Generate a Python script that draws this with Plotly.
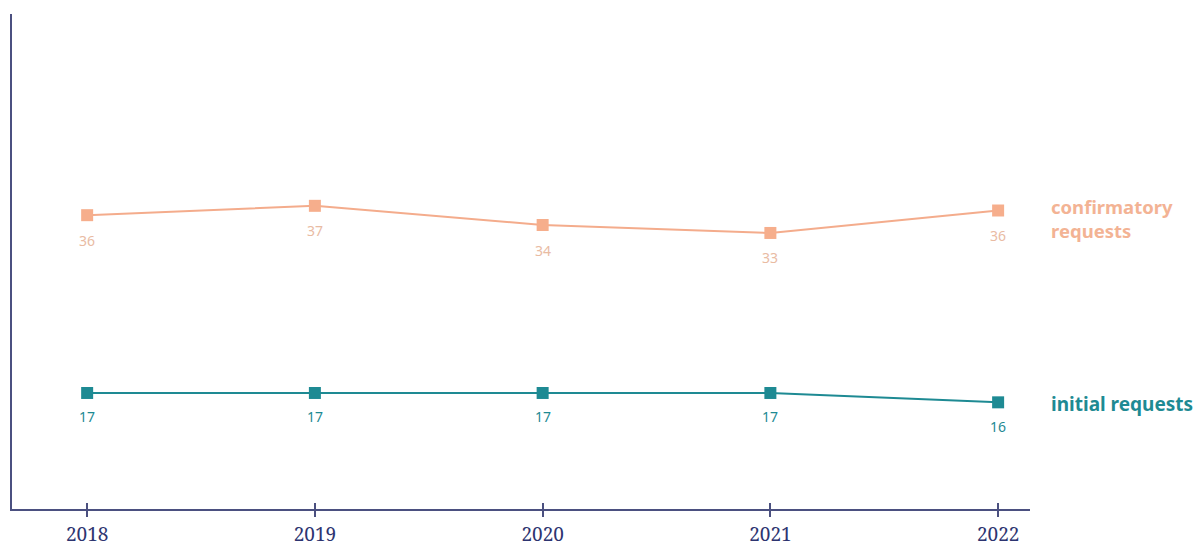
import plotly.graph_objects as go

years = [2018, 2019, 2020, 2021, 2022]
confirmatory = [36.0, 37.0, 34.95, 34.1, 36.5]
confirmatory_labels = ["36", "37", "34", "33", "36"]
initial = [17.0, 17.0, 17.0, 17.0, 16.0]
initial_labels = ["17", "17", "17", "17", "16"]
series_names = ["confirmatory<br>requests", "initial requests"]

orange_line = "#F4AC8C"
orange_label = "#E9BBA3"
teal = "#1E8A93"
axis_col = "#4B5080"

fig = go.Figure()
fig.add_trace(go.Scatter(
    x=years, y=confirmatory, mode="lines+markers",
    line=dict(color=orange_line, width=2),
    marker=dict(symbol="square", size=12, color="#F6AE8C"),
    showlegend=False, cliponaxis=False))
fig.add_trace(go.Scatter(
    x=years, y=initial, mode="lines+markers",
    line=dict(color=teal, width=2),
    marker=dict(symbol="square", size=12, color=teal),
    showlegend=False, cliponaxis=False))

for x, y, t in zip(years, confirmatory, confirmatory_labels):
    fig.add_annotation(x=x, y=y, text=t, showarrow=False, yshift=-25,
                       font=dict(family="Noto Sans", size=14, color=orange_label))
for x, y, t in zip(years, initial, initial_labels):
    fig.add_annotation(x=x, y=y, text=t, showarrow=False, yshift=-24,
                       font=dict(family="Noto Sans", size=14, color=teal))

# plot area spans x 12..1030, y 14..509 (pixels)
label_specs = [(series_names[0], 218, "#F3B394", 18.5),
               (series_names[1], 404, teal, 19)]
for txt, py, col, fs in label_specs:
    fig.add_annotation(x=(1049 - 12) / 1018, y=(509 - py) / 495, xref="paper", yref="paper",
                       xanchor="left", yanchor="middle",
                       text="<b>" + txt + "</b>", showarrow=False, align="left",
                       font=dict(family="Noto Sans", size=fs, color=col))

fig.update_layout(
    width=1196, height=546,
    margin=dict(l=12, r=166, t=14, b=37, autoexpand=False),
    paper_bgcolor="white", plot_bgcolor="white",
    xaxis=dict(range=[2017.67, 2022.14], tickvals=years, ticktext=[str(y) for y in years],
               showgrid=False, zeroline=False, showline=True, linecolor=axis_col, linewidth=1.5,
               ticks="outside", ticklen=6, tickcolor=axis_col, tickwidth=1.5, automargin=False,
               ticklabelstandoff=1,
               tickfont=dict(family="Noto Serif", size=19, color="#2D3470")),
    xaxis2=dict(range=[2017.67, 2022.14], overlaying="x", tickvals=years, showticklabels=False,
                showgrid=False, zeroline=False, showline=False, ticks="inside", ticklen=6,
                tickcolor=axis_col, tickwidth=1.5, side="bottom", anchor="y", automargin=False),
    yaxis=dict(range=[4.6, 57.5], showgrid=False, zeroline=False, showticklabels=False,
               showline=True, linecolor=axis_col, linewidth=1.5, ticks="", automargin=False),
)
fig.add_trace(go.Scatter(x=[years[0]], y=[None], xaxis="x2", showlegend=False, hoverinfo="skip"))

fig.write_html("out.html")
